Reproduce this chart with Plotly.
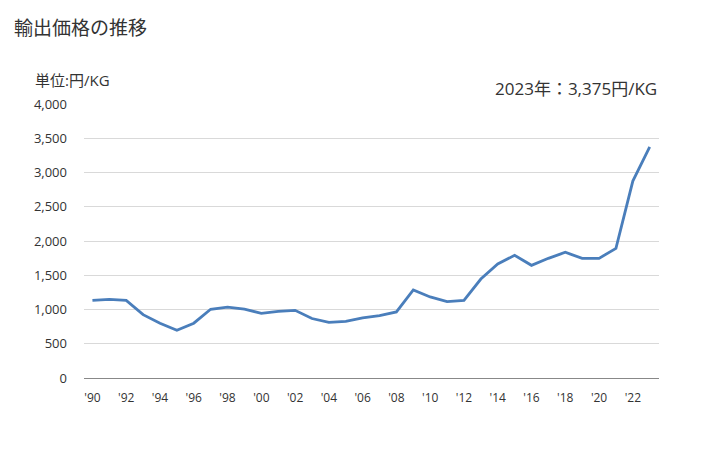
import plotly.graph_objects as go

years = list(range(1990, 2024))
values = [1134, 1149, 1134, 925, 800, 698, 800, 1003, 1035, 1005, 945, 973, 988,
          868, 813, 827, 878, 912, 964, 1285, 1183, 1116, 1134, 1445, 1664, 1791,
          1645, 1747, 1835, 1747, 1747, 1893, 2875, 3375]
tick_years = list(range(1990, 2024, 2))
tick_labels = ["'" + str(y)[2:] for y in tick_years]
y_ticks = [0, 500, 1000, 1500, 2000, 2500, 3000, 3500, 4000]

font_family = "Open Sans, Noto Sans CJK JP, sans-serif"

fig = go.Figure()
fig.add_trace(go.Scatter(x=years, y=values, mode="lines",
                         line=dict(color="#4a7ebb", width=2.8),
                         hoverinfo="x+y"))

fig.update_layout(
    width=728, height=450,
    margin=dict(l=84, r=69, t=104, b=72),
    paper_bgcolor="white", plot_bgcolor="white",
    showlegend=False,
    font=dict(family=font_family, color="#333333", size=12),
    xaxis=dict(range=[1989.5, 2023.55], tickvals=tick_years, ticktext=tick_labels,
               showgrid=False, showline=True, linecolor="#888888", linewidth=1,
               ticks="", tickfont=dict(size=12, color="#333333"), zeroline=False,
               ticklabelstandoff=9),
    yaxis=dict(range=[0, 4000], tickvals=y_ticks, tickformat=",",
               showgrid=True, gridcolor="#d9d9d9", gridwidth=1,
               zeroline=False, showline=False, ticks="",
               tickfont=dict(size=13, color="#333333"), ticklabelstandoff=16),
    annotations=[
        dict(text="輸出価格の推移", xref="paper", yref="paper", x=-72/575, y=1 + 76/274,
             xanchor="left", yanchor="middle", showarrow=False,
             font=dict(size=19, color="#333333")),
        dict(text="単位:円/KG", xref="paper", yref="paper", x=-51/575, y=1 + 24/274,
             xanchor="left", yanchor="middle", showarrow=False,
             font=dict(size=15, color="#333333")),
        dict(text="2023年：3,375円/KG", xref="paper", yref="paper", x=1.0, y=1 + 16/274,
             xanchor="right", yanchor="middle", showarrow=False,
             font=dict(size=17, color="#333333")),
    ],
)

fig.write_html("out.html")
